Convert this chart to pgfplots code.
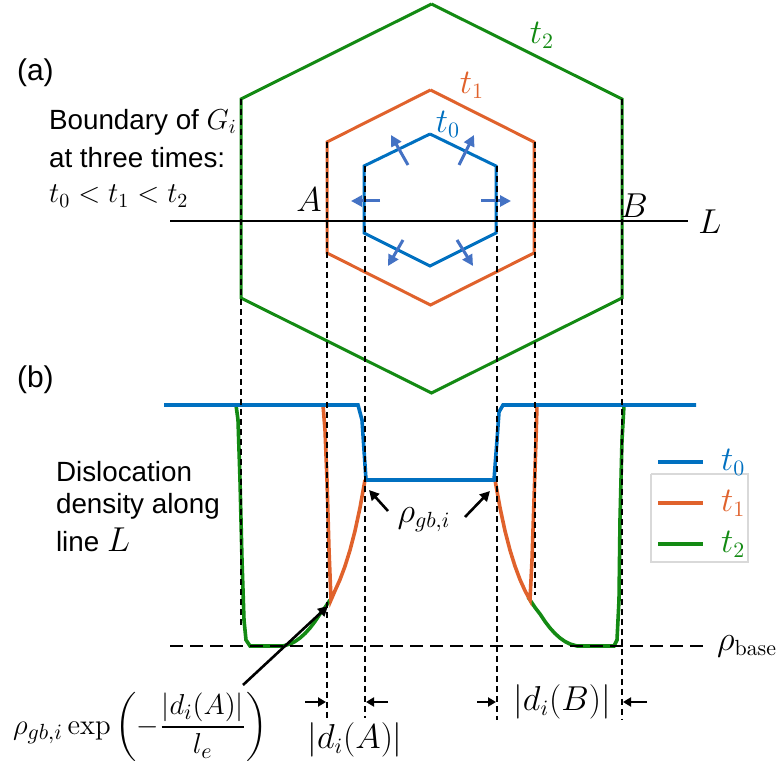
\documentclass[border=0pt]{standalone}
\usepackage{amsmath}
\usepackage{pgfplots}
\pgfplotsset{compat=1.18}
\usetikzlibrary{arrows.meta}
\usepackage[no-math]{fontspec}
\setmainfont{Liberation Sans}
\definecolor{cblue}{HTML}{0070C0}
\definecolor{corange}{HTML}{E0622C}
\definecolor{cgreen}{HTML}{138A13}
\definecolor{carrow}{HTML}{4472C4}
\newcommand\fs{\fontsize{13.9}{16}\selectfont}
\newcommand\fm{\fontsize{16}{18}\selectfont}
\begin{document}
\begin{tikzpicture}
\begin{axis}[width=391pt,height=384.5pt,scale only axis,
  xmin=0,xmax=782,ymin=0,ymax=769,y dir=reverse,hide axis,clip=false]
% ---------- (a) hexagons ----------
\addplot[cgreen,line width=1.5pt] coordinates {(431.5,4) (622,99) (622,298) (431.5,393) (241,298) (241,99) (431.5,4)};
\addplot[corange,line width=1.5pt] coordinates {(430.5,90) (534,142) (534,253) (430.5,305) (327,253) (327,142) (430.5,90)};
\addplot[cblue,line width=1.5pt] coordinates {(430,134) (496,166) (496,233) (430,266) (364,233) (364,166) (430,134)};
% line L
\addplot[black,line width=1pt] coordinates {(170,221) (688,221)};
% growth arrows
\addplot[carrow,line width=1.5pt,-{Triangle[length=5.5pt,width=5.5pt]}] coordinates {(380,201) (351,201)};
\addplot[carrow,line width=1.5pt,-{Triangle[length=5.5pt,width=5.5pt]}] coordinates {(481,201) (511,201)};
\addplot[carrow,line width=1.5pt,-{Triangle[length=5.5pt,width=5.5pt]}] coordinates {(408,165) (391,135)};
\addplot[carrow,line width=1.5pt,-{Triangle[length=5.5pt,width=5.5pt]}] coordinates {(459,165) (474,135)};
\addplot[carrow,line width=1.5pt,-{Triangle[length=5.5pt,width=5.5pt]}] coordinates {(403,240) (388,266)};
\addplot[carrow,line width=1.5pt,-{Triangle[length=5.5pt,width=5.5pt]}] coordinates {(457,240) (473,266)};
% ---------- (b) curves ----------
% t2 (green)
\addplot[cgreen,line width=1.8pt] coordinates {(200,405) (236,405) (238,420) (240,480) (242,560) (244,620) (246,640) (250,646) (283,646) (290,644) (295,641.5) (300,638) (305,633.5) (310,628) (315,621.5) (320,614) (325,607.5) (330,600)};
\addplot[cgreen,line width=1.8pt] coordinates {(528,597) (530,600) (535,607.5) (540,614) (545,621.5) (550,628) (555,633.5) (560,638) (565,641.5) (570,644) (577,646) (614,646) (617,640) (619,600) (620,520) (622,440) (624,405) (660,405)};
% t1 (orange)
\addplot[corange,line width=1.8pt] coordinates {(300,405) (323,405) (325,430) (327,480) (329,550) (331,600) (335,590.7) (340,579.6) (345,566.2) (350,550.2) (355,530.9) (360,507.7) (365,480)};
\addplot[corange,line width=1.8pt] coordinates {(495,480) (500,507.7) (505,530.9) (510,550.2) (515,566.2) (520,579.6) (525,590.7) (530,600) (532,560) (534,500) (536,440) (537,405) (560,405)};
% t0 (blue)
\addplot[cblue,line width=1.8pt] coordinates {(164,405) (358,405) (362,420) (366,480) (494,480) (497,440) (499,412) (503,405) (696,405)};
% ---------- dashed guides ----------
\addplot[black,line width=0.8pt,dash pattern=on 3pt off 2pt] coordinates {(241,99) (241,628)};
\addplot[black,line width=0.8pt,dash pattern=on 3pt off 2pt] coordinates {(327,142) (327,718)};
\addplot[black,line width=0.8pt,dash pattern=on 3pt off 2pt] coordinates {(365,166) (365,718)};
\addplot[black,line width=0.8pt,dash pattern=on 3pt off 2pt] coordinates {(497,166) (497,720)};
\addplot[black,line width=0.8pt,dash pattern=on 3pt off 2pt] coordinates {(535,142) (535,595)};
\addplot[black,line width=0.8pt,dash pattern=on 3pt off 2pt] coordinates {(622,99) (622,720)};
\addplot[black,line width=0.8pt,dash pattern=on 6.5pt off 3.5pt] coordinates {(170,646) (708,646)};
% ---------- black arrows ----------
\addplot[black,line width=1pt,-{Triangle[length=4pt,width=4.5pt]}] coordinates {(305,702) (326,702)};
\addplot[black,line width=1pt,-{Triangle[length=4pt,width=4.5pt]}] coordinates {(388,702) (366,702)};
\addplot[black,line width=1pt,-{Triangle[length=4pt,width=4.5pt]}] coordinates {(477,702) (496,702)};
\addplot[black,line width=1pt,-{Triangle[length=4pt,width=4.5pt]}] coordinates {(647,702) (623,702)};
\addplot[black,line width=1.3pt,-{Triangle[length=5pt,width=5pt]}] coordinates {(243,685) (328,606)};
\addplot[black,line width=1.3pt,-{Triangle[length=5pt,width=5pt]}] coordinates {(388,511) (369,490)};
\addplot[black,line width=1.3pt,-{Triangle[length=5pt,width=5pt]}] coordinates {(465,517) (490,491)};
% ---------- legend ----------
\addplot[gray!30,line width=0.6pt] coordinates {(651,474) (748,474) (748,562) (651,562) (651,474)};
\addplot[cblue,line width=2pt] coordinates {(658,462) (703,462)};
\addplot[corange,line width=2pt] coordinates {(658,503) (703,503)};
\addplot[cgreen,line width=2pt] coordinates {(658,544) (703,544)};
\node[anchor=west,text=cblue,font=\fm] at (axis cs:714,462) {$t_0$};
\node[anchor=west,text=corange,font=\fm] at (axis cs:714,503) {$t_1$};
\node[anchor=west,text=cgreen,font=\fm] at (axis cs:714,544) {$t_2$};
% ---------- text ----------
\node[anchor=west,font=\fontsize{15}{17}\selectfont] at (axis cs:10,73) {(a)};
\node[anchor=west,font=\fontsize{15}{17}\selectfont] at (axis cs:10,380) {(b)};
\node[anchor=west,font=\fs] at (axis cs:42,122) {Boundary of $G_i$};
\node[anchor=west,font=\fs] at (axis cs:42,158) {at three times:};
\node[anchor=west,font=\fontsize{14.5}{17}\selectfont] at (axis cs:42,196) {$t_0<t_1<t_2$};
\node[anchor=west,font=\fs] at (axis cs:49,472) {Dislocation};
\node[anchor=west,font=\fs] at (axis cs:49,506) {density along};
\node[anchor=west,font=\fs] at (axis cs:49,540) {line \fm$L$};
\node[text=cgreen,font=\fm] at (axis cs:542,35) {$t_2$};
\node[text=corange,font=\fm] at (axis cs:472,85) {$t_1$};
\node[text=cblue,font=\fm] at (axis cs:448,124) {$t_0$};
\node[font=\fm] at (axis cs:309,200) {$A$};
\node[font=\fm] at (axis cs:634,206) {$B$};
\node[font=\fm] at (axis cs:710,222) {$L$};
\node[font=\fm] at (axis cs:424,520) {$\rho_{gb,i}$};
\node[anchor=west,font=\fm] at (axis cs:710,646) {$\rho_{\mathrm{base}}$};
\node[font=\fm] at (axis cs:355,740) {$|d_i(A)|$};
\node[font=\fm] at (axis cs:562,702) {$|d_i(B)|$};
\node[anchor=west,font=\fontsize{15.7}{18}\selectfont] at (axis cs:6,727) {$\rho_{gb,i}\exp\left(-\dfrac{|d_i(A)|}{l_e}\right)$};
\end{axis}
\pgfresetboundingbox
\path (0,0) rectangle (391pt,384.5pt);
\end{tikzpicture}
\end{document}
